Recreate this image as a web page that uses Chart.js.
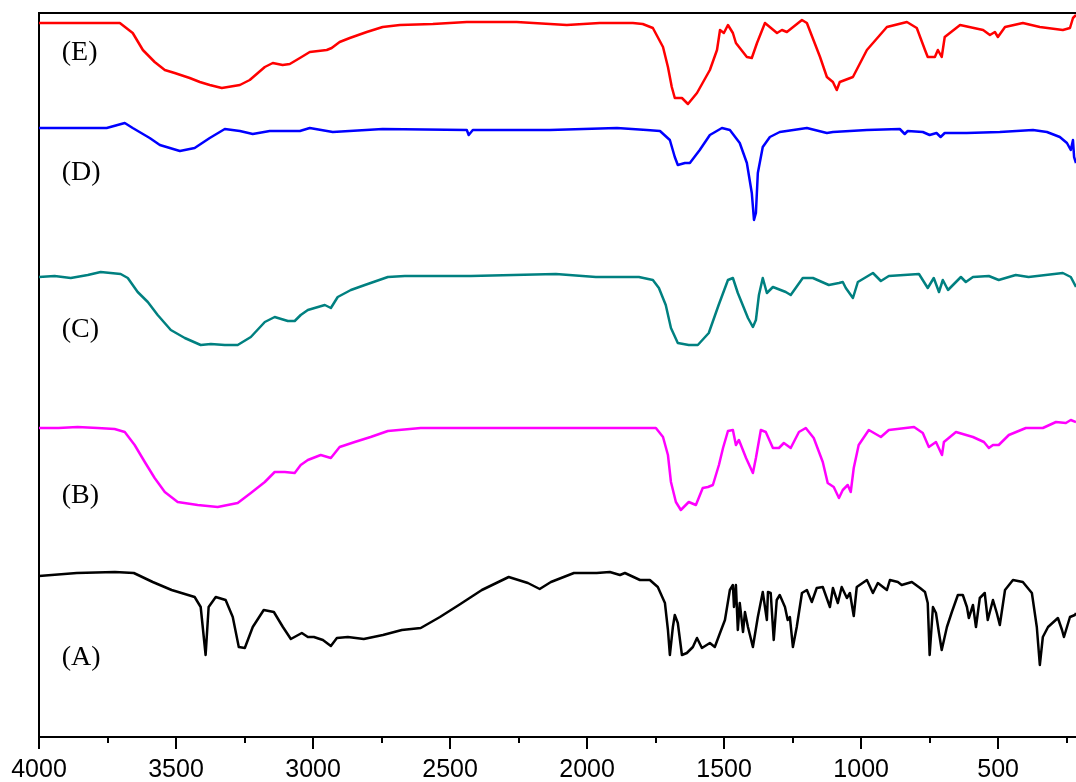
<!DOCTYPE html>
<html>
<head>
<meta charset="utf-8">
<script src="https://cdn.jsdelivr.net/npm/chart.js@4.4.1/dist/chart.umd.min.js"></script>
<style>
  html, body { margin: 0; padding: 0; background: #fff; }
  #wrap { width: 1076px; height: 782px; }
</style>
</head>
<body>
<div id="wrap"><canvas id="ftir"></canvas></div>
<script>
// wavenumber (cm-1) and offset transmittance (a.u.)
const waveE = [4000,3705,3658,3621,3578,3541,3505,3450,3413,3377,3333,3267,3231,3176,3147,3111,3085,3048,3012,2950,2932,2903,2866,2804,2746,2683,2563,2439,2257,2074,1954,1833,1797,1760,1723,1705,1691,1680,1654,1632,1599,1552,1526,1515,1501,1486,1468,1457,1417,1399,1380,1351,1307,1289,1271,1216,1198,1150,1125,1103,1089,1078,1030,979,906,833,797,767,757,731,720,706,695,639,555,530,512,501,475,410,348,264,238,227,216];
const transE = [714,714,704,687,675,667,664,659,655,652,649,652,657,670,674,672,673,679,685,687,689,695,699,705,710,712,713,715,715,712,714,714,713,709,690,670,650,639,639,633,644,667,687,707,704,712,704,694,680,679,694,714,704,707,705,717,714,680,660,655,647,655,660,687,710,715,709,687,680,680,687,680,700,712,707,702,705,700,710,714,710,707,709,719,722];

const waveD = [4000,3753,3687,3658,3596,3559,3486,3432,3377,3322,3267,3220,3158,3048,3012,2928,2746,2439,2432,2417,2136,1891,1782,1734,1698,1680,1669,1643,1625,1589,1552,1508,1479,1443,1417,1399,1391,1384,1377,1359,1333,1297,1198,1125,1103,979,859,841,830,775,750,725,710,695,615,494,373,322,275,249,235,227,223,216];
const transD = [609,609,614,609,599,592,586,589,599,608,606,603,606,606,609,605,608,607,602,607,607,609,607,606,597,580,572,574,574,587,602,609,607,594,574,544,517,524,564,590,600,605,609,604,605,607,608,603,606,605,602,604,600,604,604,605,607,605,600,594,587,597,580,574];

const waveC = [4000,3943,3884,3822,3775,3702,3676,3640,3603,3567,3519,3468,3410,3373,3322,3275,3227,3176,3140,3092,3067,3045,3019,2957,2935,2910,2862,2811,2727,2665,2424,2114,1968,1811,1760,1738,1713,1694,1669,1629,1596,1556,1520,1486,1468,1450,1413,1395,1384,1373,1359,1344,1322,1275,1257,1213,1176,1118,1081,1067,1056,1030,1012,957,928,899,789,757,735,716,702,683,636,618,592,534,498,436,389,264,235,216];
const transC = [460,461,459,462,465,463,459,445,435,422,407,399,392,393,392,392,400,415,420,416,416,422,427,432,429,440,447,452,460,461,461,463,460,460,457,449,432,409,394,392,392,404,432,457,459,444,419,410,417,442,459,444,450,445,442,459,459,452,454,455,449,439,455,464,456,461,463,449,459,445,457,447,460,455,460,461,457,462,460,464,460,450];

const waveB = [4000,3929,3859,3786,3724,3687,3651,3614,3578,3541,3494,3421,3348,3275,3227,3176,3140,3103,3067,3045,3019,2972,2935,2903,2848,2790,2727,2607,2362,2114,1749,1723,1705,1694,1676,1658,1629,1603,1578,1559,1541,1519,1504,1486,1468,1457,1446,1420,1395,1384,1366,1348,1322,1300,1282,1257,1227,1202,1173,1140,1122,1100,1081,1067,1049,1038,1027,1009,972,928,899,807,775,753,727,705,698,654,592,552,534,519,498,461,399,337,289,253,235,216];
const transB = [309,309,310,309,308,305,292,275,259,245,235,232,230,234,244,255,265,265,264,272,277,282,279,290,295,300,306,309,309,309,309,300,282,255,235,227,235,232,249,250,252,272,289,306,307,292,297,279,264,279,307,305,289,289,294,289,305,309,299,275,254,250,239,247,252,245,269,292,307,300,307,310,304,290,295,282,295,305,300,295,289,292,292,302,309,309,315,314,317,315];

const waveA = [4000,3862,3723,3654,3585,3516,3432,3410,3392,3381,3355,3319,3293,3271,3249,3220,3180,3143,3110,3081,3041,3019,2997,2964,2935,2913,2873,2815,2745,2676,2607,2537,2468,2384,2286,2216,2173,2132,2048,1965,1917,1880,1862,1807,1771,1742,1716,1705,1698,1687,1680,1669,1654,1636,1614,1599,1581,1552,1534,1515,1497,1479,1468,1464,1457,1450,1443,1431,1424,1413,1395,1377,1359,1344,1340,1330,1319,1308,1297,1278,1268,1260,1249,1235,1216,1198,1180,1162,1140,1114,1103,1085,1071,1052,1041,1027,1016,979,957,939,906,895,866,852,815,785,767,757,750,738,727,716,706,687,669,647,629,614,607,592,581,567,549,538,519,505,494,475,446,410,377,359,348,337,318,282,267,260,238,220,216];
const transA = [161,164,165,164,155,147,140,130,82,130,140,137,120,90,89,110,127,125,110,98,104,100,100,97,91,99,100,98,102,107,109,120,132,147,160,154,148,155,164,164,165,162,164,157,157,150,134,107,82,110,122,114,82,84,90,99,89,94,90,104,117,147,152,130,152,107,134,105,125,110,90,120,145,117,145,144,97,137,142,130,117,120,90,110,144,147,135,149,150,130,149,134,150,139,144,121,150,157,144,154,147,157,155,152,155,149,145,134,82,130,124,104,87,110,125,142,142,130,119,132,110,139,144,117,137,124,112,147,157,155,144,110,72,100,110,119,107,100,120,122,124];

const majorTicks = [4000, 3500, 3000, 2500, 2000, 1500, 1000, 500];
const minorTicks = [3750, 3250, 2750, 2250, 1750, 1250, 750, 250];
const seriesNames = ['(A)', '(B)', '(C)', '(D)', '(E)'];

function pts(w, v) {
    return w.map((x, i) => ({ x: x, y: v[i] }));
}

function line(name, w, v, colour) {
    return {
        label: name,
        data: pts(w, v),
        borderColor: colour,
        borderWidth: 2.5,
        borderJoinStyle: 'round',
        pointRadius: 0,
        tension: 0,
        fill: false
    };
}

// top frame line, x tick marks (major + minor) and the (A)..(E) tags
const framePlugin = {
    id: 'frame',
    afterDraw(chart) {
        const ctx = chart.ctx;
        const area = chart.chartArea;
        const xs = chart.scales.x;
        const ys = chart.scales.y;
        ctx.save();
        ctx.strokeStyle = '#000';
        ctx.lineWidth = 2;
        ctx.beginPath();
        ctx.moveTo(area.left - 1, area.top);
        ctx.lineTo(chart.width, area.top);
        ctx.stroke();

        majorTicks.concat(minorTicks).forEach(v => {
            if (v < xs.min) return;
            const px = Math.round(xs.getPixelForValue(v));
            const len = majorTicks.includes(v) ? 12 : 6;
            ctx.beginPath();
            ctx.moveTo(px, area.bottom);
            ctx.lineTo(px, area.bottom + len);
            ctx.stroke();
        });

        ctx.fillStyle = '#000';
        ctx.font = '28px "Liberation Serif"';
        ctx.textBaseline = 'middle';
        ctx.textAlign = 'left';
        const tagY = [79, 241, 407, 564, 684];
        seriesNames.forEach((n, i) => {
            ctx.fillText(n, xs.getPixelForValue(3917), ys.getPixelForValue(tagY[i]));
        });
        ctx.restore();
    }
};

new Chart(document.getElementById('ftir'), {
    type: 'line',
    data: {
        datasets: [
            line('(A)', waveA, transA, '#000000'),
            line('(B)', waveB, transB, '#ff00ff'),
            line('(C)', waveC, transC, '#008080'),
            line('(D)', waveD, transD, '#0000ff'),
            line('(E)', waveE, transE, '#ff0000')
        ]
    },
    options: {
        responsive: true,
        maintainAspectRatio: false,
        animation: false,
        layout: { padding: { top: 13, left: 39, right: 0, bottom: 0 } },
        plugins: {
            legend: { display: false },
            tooltip: { enabled: false }
        },
        scales: {
            x: {
                type: 'linear',
                reverse: true,
                min: 216,
                max: 4000,
                afterFit: s => { s.height = 45; s.paddingLeft = 0; s.paddingRight = 0; },
                afterBuildTicks: s => { s.ticks = majorTicks.map(v => ({ value: v })); },
                grid: { display: false, drawTicks: false },
                border: { display: true, color: '#000', width: 2 },
                ticks: {
                    color: '#000',
                    font: { family: 'Liberation Sans', size: 25 },
                    padding: 18,
                    maxRotation: 0,
                    autoSkip: false,
                    callback: v => String(v)
                }
            },
            y: {
                min: 0,
                max: 724,
                afterFit: s => { s.width = 0; },
                grid: { display: false, drawTicks: false },
                border: { display: true, color: '#000', width: 2 },
                ticks: { display: false }
            }
        }
    },
    plugins: [framePlugin]
});
</script>
</body>
</html>
